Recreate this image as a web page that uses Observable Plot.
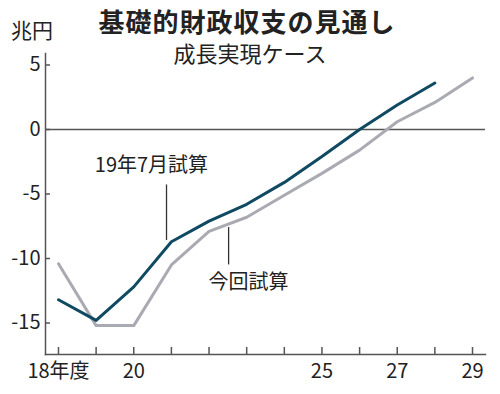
<!DOCTYPE html>
<html><head><meta charset="utf-8">
<script src="https://cdn.jsdelivr.net/npm/d3@7"></script>
<script src="https://cdn.jsdelivr.net/npm/@observablehq/plot@0.6"></script>
<style>
body{margin:0;background:#fff;font-family:"Noto Sans CJK JP",sans-serif;}
#wrap{position:relative;width:500px;height:394px;overflow:hidden;}
.title{position:absolute;left:0;width:494px;text-align:center;top:8px;font-size:26px;line-height:26px;font-weight:bold;color:#222;letter-spacing:1px;}
.sub{position:absolute;left:0;width:500px;text-align:center;top:41px;font-size:22px;line-height:22px;color:#222;}
.unit{position:absolute;left:11px;top:19px;font-size:21px;line-height:21px;color:#222;}
</style></head>
<body><div id="wrap">
<div class="title">基礎的財政収支の見通し</div>
<div class="sub">成長実現ケース</div>
<div class="unit">兆円</div>
</div>
<script>
const years = [18,19,20,21,22,23,24,25,26,27,28,29];
const july2019 = [-13.2,-14.8,-12.2,-8.7,-7.1,-5.8,-4.1,-2.1,0,1.9,3.6,null];
const current = [-10.4,-15.2,-15.2,-10.5,-7.9,-6.8,-5.1,-3.4,-1.6,0.6,2.1,4.0];
const yTicks = [5,0,-5,-10,-15];
const xLabels = {18:"18年度",20:"20",25:"25",27:"27",29:"29"};
const labels = [
  {name:"19年7月試算", x:20.47, y:-2.8, lx:20.87, ly1:-4.3, ly2:-8.6},
  {name:"今回試算", x:23.05, y:-11.9, lx:22.52, ly1:-7.6, ly2:-10.5}
];
const colors = {july:"#0f4a62", cur:"#aaaab2"};

const rows = [];
years.forEach((yr,i)=>{
  if (july2019[i]!=null) rows.push({year:yr, value:july2019[i], s:"july"});
  rows.push({year:yr, value:current[i], s:"cur"});
});

const fontFam = '"Noto Sans CJK JP", sans-serif';
const chart = Plot.plot({
  width:500, height:394,
  marginLeft:45, marginRight:15, marginTop:53, marginBottom:40,
  style:{fontFamily:fontFam, fontSize:"20px", color:"#222", background:"transparent"},
  x:{domain:[17.655,29.345]},
  y:{domain:[-17.44,5.89]},
  marks:[
    Plot.ruleY([0],{stroke:"#555",strokeWidth:1.5}),
    Plot.frame({anchor:"left",stroke:"#555",strokeWidth:1.5}),
    Plot.frame({anchor:"bottom",stroke:"#555",strokeWidth:1.5}),
    Plot.axisX({ticks:years, tickSize:-7, tickFormat:()=>"", stroke:"#555", strokeWidth:1.5}),
    Plot.axisX({ticks:Object.keys(xLabels).map(Number), tickSize:0, tickPadding:9, tickFormat:d=>xLabels[d], fontSize:20, fill:"#222", style:{letterSpacing:"-1px"}}),
    Plot.axisY({ticks:yTicks, tickSize:-5, tickFormat:()=>"", stroke:"#555", strokeWidth:1.5}),
    Plot.axisY({ticks:yTicks, tickSize:0, tickPadding:5, tickFormat:d=>String(d), fontSize:20, fill:"#222"}),
    Plot.line(rows.filter(d=>d.s==="cur"),{x:"year",y:"value",stroke:colors.cur,strokeWidth:3}),
    Plot.line(rows.filter(d=>d.s==="july"),{x:"year",y:"value",stroke:colors.july,strokeWidth:3}),
    Plot.ruleX(labels,{x:"lx",y1:"ly1",y2:"ly2",stroke:"#333",strokeWidth:1.3}),
    Plot.text(labels,{x:"x",y:"y",text:"name",fontSize:20,fill:"#222"})
  ]
});
chart.style.position="absolute";chart.style.left="0";chart.style.top="0";
document.getElementById("wrap").prepend(chart);
</script>
</body></html>
